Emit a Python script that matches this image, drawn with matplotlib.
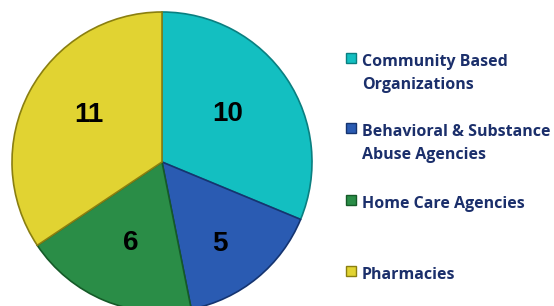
import numpy as np
import matplotlib.pyplot as plt
from matplotlib.patches import Rectangle

# data
categories = ["Community Based\nOrganizations", "Behavioral & Substance\nAbuse Agencies",
              "Home Care Agencies", "Pharmacies"]
counts = [10, 5, 6, 11]
colors = ["#13BFC1", "#2A5BB2", "#2A8D47", "#E1D332"]
edges = ["#0A7F80", "#153470", "#155A28", "#8A7F10"]

W, H = 554, 306
fig = plt.figure(figsize=(W / 100, H / 100), dpi=100)
ax = fig.add_axes([0, 0, 1, 1])

# pie in pixel units (y up)
cx, cy, r = 162, H - 162, 150
wedges, _, autotexts = ax.pie(
    counts, colors=colors, startangle=90, counterclock=False,
    center=(cx, cy), radius=r, pctdistance=0.6,
    autopct=lambda p: f"{round(p * sum(counts) / 100):d}",
    wedgeprops=dict(linewidth=1.2),
    textprops=dict(fontsize=20, fontweight="bold", family="Liberation Sans", color="black"),
)
for w, ec in zip(wedges, edges):
    w.set_edgecolor(ec)

# label positions inside each wedge (fraction of radius, angle in deg)
label_pos = [(0.54, 36), (0.67, -55), (0.58, -111), (0.58, 147)]
for t, (d, a) in zip(autotexts, label_pos):
    t.set_position((cx + d * r * np.cos(np.radians(a)), cy + d * r * np.sin(np.radians(a))))

ax.set_xlim(0, W)
ax.set_ylim(0, H)
ax.set_aspect("auto")
ax.axis("off")

# legend, laid out by hand
navy = "#1B2F6B"
legend_y = [58, 128, 200, 271]   # marker centres, px from top
for lab, col, ec, y in zip(categories, colors, edges, legend_y):
    ax.add_patch(Rectangle((346, H - y - 5), 10, 10, facecolor=col, edgecolor=ec, lw=1))
    ax.text(362, H - y + 4, lab, ha="left", va="top", fontsize=11.5, fontweight="bold",
            family="Open Sans", color=navy, linespacing=1.55)

fig.savefig("out.png", dpi=100)
